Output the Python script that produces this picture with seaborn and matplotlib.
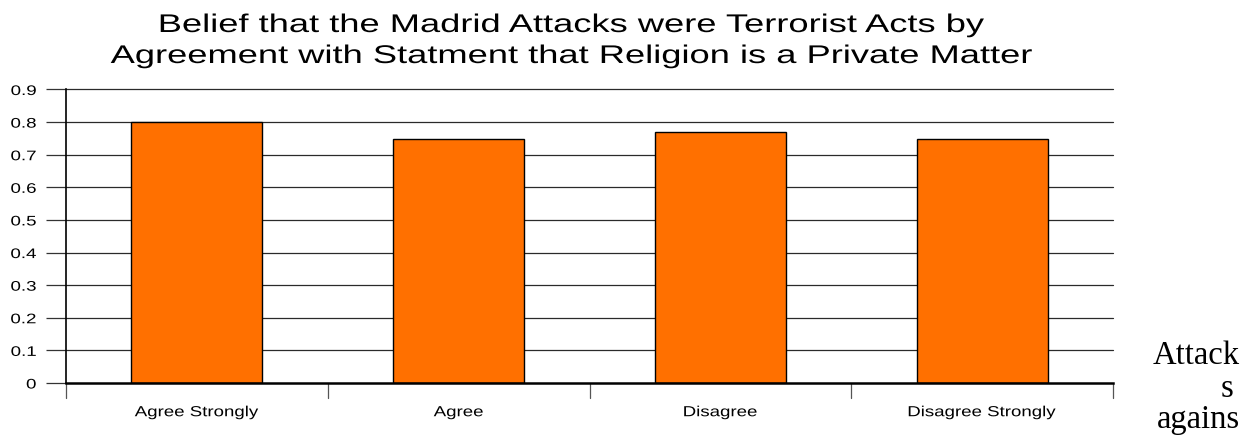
import matplotlib
matplotlib.use("Agg")
import matplotlib.pyplot as plt
import seaborn as sns
import pandas as pd
import numpy as np
from matplotlib.patheffects import AbstractPathEffect
from matplotlib.transforms import Affine2D

# Share of respondents who believed the Madrid attacks were terrorist acts
categories = ["Agree Strongly", "Agree", "Disagree", "Disagree Strongly"]
belief_share = [0.80, 0.747, 0.771, 0.747]
y_ticks = [0, 0.1, 0.2, 0.3, 0.4, 0.5, 0.6, 0.7, 0.8, 0.9]
y_tick_labels = ["0", "0.1", "0.2", "0.3", "0.4", "0.5", "0.6", "0.7", "0.8", "0.9"]
title_lines = ["Belief that the Madrid Attacks were Terrorist Acts by",
               "Agreement with Statment that Religion is a Private Matter"]
side_words = ["Attack", "s", "agains"]


class Widen(AbstractPathEffect):
    """Draw text glyphs stretched horizontally about an anchor."""

    def __init__(self, sx, ha="center"):
        super().__init__()
        self._sx = sx
        self._ha = ha

    def draw_path(self, renderer, gc, tpath, affine, rgbFace=None):
        bb = tpath.get_extents(affine)
        if not np.isfinite(bb.x0) or bb.width <= 0:
            renderer.draw_path(gc, tpath, affine, rgbFace)
            return
        anchor = {"center": 0.5 * (bb.x0 + bb.x1), "left": bb.x0, "right": bb.x1}[self._ha]
        stretched = affine + Affine2D().translate(-anchor, 0).scale(self._sx, 1).translate(anchor, 0)
        renderer.draw_path(gc, tpath, stretched, rgbFace)


df = pd.DataFrame({"response": categories, "share": belief_share})

sns.set_theme(style="white")
plt.rcParams["font.family"] = ["Liberation Sans", "DejaVu Sans"]
plt.rcParams["text.color"] = "black"
plt.rcParams["xtick.color"] = "black"
plt.rcParams["ytick.color"] = "black"

W, H = 1251, 438
fig = plt.figure(figsize=(W / 100, H / 100), dpi=100)
ax = fig.add_axes([66 / W, 1 - 383 / H, (1113 - 66) / W, (383 - 89.5) / H])

sns.barplot(data=df, x="response", y="share", color="#FF7000", width=0.5,
            edgecolor="black", linewidth=1.0, saturation=1, ax=ax, zorder=3)

ax.set_xlim(-0.5, len(categories) - 0.5)
ax.set_ylim(0, 0.9)
ax.set_yticks(y_ticks)
ylabels = ax.set_yticklabels(y_tick_labels, fontsize=10, color="black")
for lab in ylabels:
    lab.set_path_effects([Widen(1.35, "right")])
for y in y_ticks[1:]:
    ax.axhline(y, color="#2a2a2a", linewidth=0.9, zorder=1, clip_on=False)

ax.set_xlabel("")
ax.set_ylabel("")
ax.set_xticks(np.arange(len(categories)))
xlabels = ax.set_xticklabels(categories, fontsize=10.5, color="black")
for lab in xlabels:
    lab.set_path_effects([Widen(1.28, "center")])
ax.tick_params(axis="x", length=0, pad=16)
ax.tick_params(axis="y", length=14.4, width=0.9, color="#333333", direction="out", pad=7, left=True)

# category separator ticks below the axis
for xb in np.arange(-0.5, len(categories), 1.0):
    ax.plot([xb, xb], [0, -0.045], color="#555555", linewidth=0.9, clip_on=False, zorder=2)

for s in ["top", "right"]:
    ax.spines[s].set_visible(False)
ax.spines["left"].set_color("black")
ax.spines["left"].set_linewidth(1.2)
ax.spines["bottom"].set_color("black")
ax.spines["bottom"].set_linewidth(1.8)
ax.spines["bottom"].set_zorder(4)

for line, yb in zip(title_lines, [32, 63]):
    t = fig.text(571 / W, 1 - yb / H, line, ha="center", va="baseline",
                 fontsize=18.4, color="black")
    t.set_path_effects([Widen(1.42, "center")])

# wrapped caption fragment on the right edge
for txt, yb, xr in zip(side_words, [364, 397, 428], [1240, 1233, 1240]):
    fig.text(xr / W, 1 - yb / H, txt, ha="right", va="baseline", color="black",
             fontsize=23.5, family=["Liberation Serif", "DejaVu Serif"])

fig.savefig("out.png", dpi=100)
